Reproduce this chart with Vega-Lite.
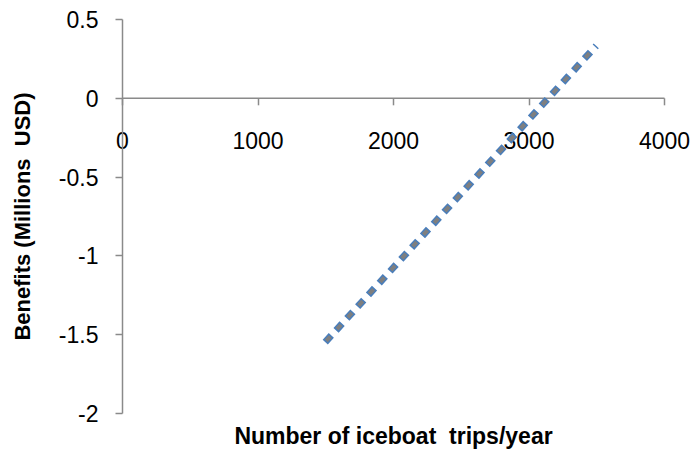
{
  "$schema": "https://vega.github.io/schema/vega-lite/v6.json",
  "width": 542,
  "height": 394,
  "autosize": {"type": "none"},
  "padding": {"left": 122, "top": 19, "right": 32, "bottom": 42},
  "background": "white",
  "config": {
    "view": {"stroke": null},
    "font": "Liberation Sans"
  },
  "data": {
    "values": [
      {"trips": 1500, "benefits": -1.55},
      {"trips": 2000, "benefits": -1.08},
      {"trips": 2500, "benefits": -0.61},
      {"trips": 3000, "benefits": -0.14},
      {"trips": 3500, "benefits": 0.33}
    ]
  },
  "encoding": {
    "x": {
      "field": "trips",
      "type": "quantitative",
      "scale": {"domain": [0, 4000], "nice": false, "zero": false},
      "axis": {
        "title": "Number of iceboat\u00a0 trips/year",
        "values": [0, 1000, 2000, 3000, 4000],
        "labelExpr": "'' + datum.value",
        "offset": -315.2,
        "grid": false,
        "domainColor": "#8a8a8a",
        "domainWidth": 1.5,
        "tickColor": "#8a8a8a",
        "tickWidth": 1.5,
        "tickSize": 7,
        "labelFont": "Liberation Sans",
        "labelFontSize": 23,
        "labelColor": "#000000",
        "labelPadding": 26,
        "labelFlush": false,
        "labelOverlap": false,
        "titleFont": "Liberation Sans",
        "titleFontSize": 23,
        "titleFontWeight": "bold",
        "titleColor": "#000000",
        "titleY": 339,
        "titleBaseline": "middle"
      }
    },
    "y": {
      "field": "benefits",
      "type": "quantitative",
      "scale": {"domain": [-2, 0.5], "nice": false, "zero": false},
      "axis": {
        "title": "Benefits (Millions\u00a0 USD)",
        "values": [-2, -1.5, -1, -0.5, 0, 0.5],
        "labelExpr": "'' + datum.value",
        "grid": false,
        "domainColor": "#8a8a8a",
        "domainWidth": 1.5,
        "tickColor": "#8a8a8a",
        "tickWidth": 1.5,
        "tickSize": 7,
        "labelFont": "Liberation Sans",
        "labelFontSize": 23,
        "labelColor": "#000000",
        "labelPadding": 17,
        "labelOffset": 1.5,
        "labelFlush": false,
        "labelOverlap": false,
        "titleFont": "Liberation Sans",
        "titleFontSize": 22,
        "titleFontWeight": "bold",
        "titleColor": "#000000",
        "titleX": -100,
        "titleBaseline": "middle"
      }
    }
  },
  "layer": [
    {
      "mark": {"type": "line", "stroke": "#4a7ebb", "strokeWidth": 7, "strokeDash": [9, 7], "strokeCap": "butt"}
    },
    {
      "mark": {"type": "line", "stroke": "#7f7f7f", "strokeWidth": 4, "strokeDash": [6, 10], "strokeDashOffset": -1.5, "strokeCap": "butt"}
    }
  ]
}
